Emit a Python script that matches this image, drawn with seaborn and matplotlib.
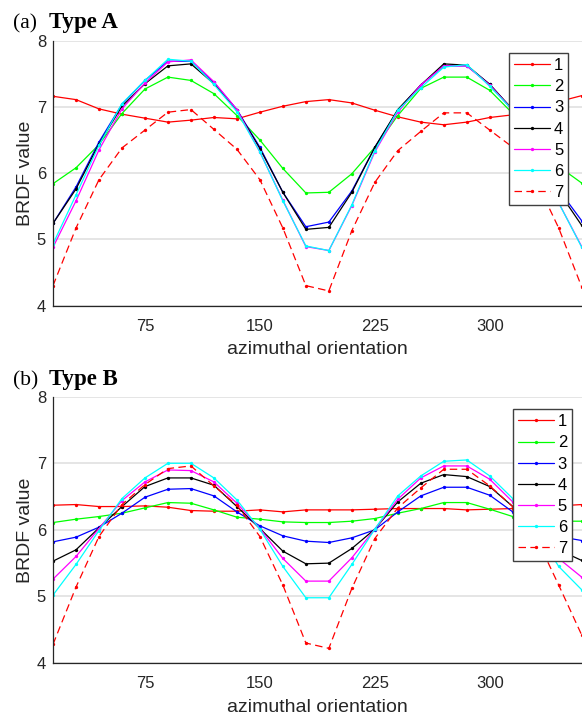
import numpy as np
import pandas as pd
import matplotlib
matplotlib.use("Agg")
import matplotlib.pyplot as plt
import seaborn as sns

# ---------------- data ----------------
azimuth = list(range(15, 361, 15))
series_names = ["1", "2", "3", "4", "5", "6", "7"]
x_ticks = [75, 150, 225, 300]
y_ticks = [4, 5, 6, 7, 8]

type_a_1 = [7.16, 7.11, 6.97, 6.89, 6.83, 6.77, 6.80, 6.84, 6.82, 6.92, 7.01, 7.08,
            7.11, 7.06, 6.95, 6.85, 6.77, 6.73, 6.77, 6.84, 6.88, 6.98, 7.08, 7.17]
type_a_2 = [5.84, 6.08, 6.43, 6.90, 7.27, 7.45, 7.40, 7.20, 6.87, 6.50, 6.07, 5.70,
            5.71, 5.99, 6.39, 6.87, 7.28, 7.45, 7.45, 7.25, 6.90, 6.50, 6.10, 5.85]
type_a_3 = [5.24, 5.79, 6.47, 7.04, 7.40, 7.69, 7.69, 7.37, 6.96, 6.39, 5.71, 5.19,
            5.26, 5.73, 6.39, 6.95, 7.33, 7.62, 7.62, 7.34, 6.95, 6.40, 5.75, 5.28]
type_a_4 = [5.24, 5.76, 6.44, 7.01, 7.35, 7.62, 7.65, 7.35, 6.95, 6.37, 5.71, 5.15,
            5.18, 5.71, 6.39, 6.96, 7.33, 7.65, 7.63, 7.34, 6.96, 6.40, 5.72, 5.21]
type_a_5 = [4.88, 5.58, 6.35, 6.97, 7.36, 7.68, 7.71, 7.38, 6.96, 6.32, 5.59, 4.89,
            4.83, 5.51, 6.32, 6.92, 7.33, 7.62, 7.62, 7.33, 6.95, 6.30, 5.55, 4.89]
type_a_6 = [4.93, 5.67, 6.42, 7.05, 7.40, 7.72, 7.69, 7.34, 6.93, 6.32, 5.58, 4.90,
            4.83, 5.52, 6.34, 6.95, 7.29, 7.60, 7.64, 7.31, 6.95, 6.30, 5.55, 4.88]
type_a_7 = [4.30, 5.17, 5.90, 6.38, 6.65, 6.92, 6.96, 6.66, 6.36, 5.90, 5.17, 4.30,
            4.22, 5.13, 5.86, 6.34, 6.63, 6.91, 6.91, 6.65, 6.39, 5.90, 5.17, 4.28]

type_b_1 = [6.37, 6.38, 6.35, 6.35, 6.36, 6.34, 6.29, 6.28, 6.28, 6.30, 6.27, 6.30,
            6.30, 6.30, 6.31, 6.32, 6.32, 6.32, 6.30, 6.31, 6.32, 6.34, 6.36, 6.38]
type_b_2 = [6.11, 6.16, 6.20, 6.25, 6.33, 6.41, 6.40, 6.30, 6.19, 6.16, 6.12, 6.11,
            6.11, 6.13, 6.17, 6.25, 6.32, 6.41, 6.41, 6.31, 6.20, 6.16, 6.13, 6.13]
type_b_3 = [5.82, 5.89, 6.04, 6.25, 6.49, 6.61, 6.62, 6.51, 6.27, 6.06, 5.91, 5.83,
            5.81, 5.88, 6.00, 6.27, 6.51, 6.64, 6.64, 6.52, 6.27, 6.05, 5.90, 5.84]
type_b_4 = [5.53, 5.70, 6.03, 6.35, 6.65, 6.78, 6.78, 6.67, 6.35, 6.02, 5.68, 5.49,
            5.50, 5.72, 6.01, 6.42, 6.70, 6.83, 6.80, 6.65, 6.35, 6.02, 5.70, 5.54]
type_b_5 = [5.26, 5.60, 6.02, 6.44, 6.72, 6.90, 6.89, 6.72, 6.40, 6.02, 5.57, 5.23,
            5.23, 5.58, 6.01, 6.46, 6.78, 6.96, 6.96, 6.76, 6.42, 6.00, 5.57, 5.29]
type_b_6 = [5.02, 5.48, 5.99, 6.47, 6.78, 7.00, 7.00, 6.78, 6.45, 6.01, 5.45, 4.98,
            4.98, 5.48, 6.01, 6.51, 6.81, 7.03, 7.05, 6.81, 6.47, 6.00, 5.45, 5.10]
type_b_7 = [4.28, 5.14, 5.90, 6.38, 6.68, 6.92, 6.96, 6.66, 6.37, 5.90, 5.17, 4.30,
            4.22, 5.12, 5.87, 6.33, 6.63, 6.91, 6.91, 6.66, 6.35, 5.90, 5.17, 4.42]

type_a = [type_a_1, type_a_2, type_a_3, type_a_4, type_a_5, type_a_6, type_a_7]
type_b = [type_b_1, type_b_2, type_b_3, type_b_4, type_b_5, type_b_6, type_b_7]

# ---------------- style ----------------
colors = ["#ff0000", "#00ff00", "#0000ff", "#000000", "#ff00ff", "#00ffff", "#ff0000"]
styles = ["-", "-", "-", "-", "-", "-", (0, (6, 3.5))]

sns.set_theme(style="white")
plt.rcParams["font.family"] = ["Liberation Sans", "DejaVu Sans"]

W, H = 582, 715
fig = plt.figure(figsize=(W / 100, H / 100), dpi=100)

def px_axes(left, top, right, bottom):
    return fig.add_axes([left / W, 1 - bottom / H, (right - left) / W, (bottom - top) / H])

ax_a = px_axes(53, 40.7, 581.7, 305.5)
ax_b = px_axes(53, 396.7, 581.7, 663.0)

dark = "#262626"

def draw(ax, data, legend_anchor):
    for name, vals, c, ls in zip(series_names, data, colors, styles):
        df = pd.DataFrame({"azimuth": azimuth, "value": vals})
        sns.lineplot(data=df, x="azimuth", y="value", ax=ax, color=c,
                     linestyle=ls, linewidth=0.9, marker="o", markersize=2.4,
                     markeredgewidth=0, errorbar=None, label=name)
    ax.set_xlim(15, 360)
    ax.set_ylim(4, 8)
    ax.set_xticks(x_ticks)
    ax.set_yticks(y_ticks)
    ax.set_xticklabels([str(t) for t in x_ticks])
    ax.set_yticklabels([str(t) for t in y_ticks])
    ax.grid(axis="y", color="#e3e3e3", linewidth=1.3)
    ax.grid(axis="x", visible=False)
    ax.set_axisbelow(True)
    for s in ["top", "right"]:
        ax.spines[s].set_visible(False)
    for s in ["left", "bottom"]:
        ax.spines[s].set_color(dark)
        ax.spines[s].set_linewidth(0.9)
    ax.tick_params(axis="both", direction="in", length=4.5, width=0.8,
                   colors=dark, labelsize=12, labelcolor=dark)
    ax.tick_params(axis="x", pad=9.5)
    ax.tick_params(axis="y", pad=5)
    ax.set_xlabel("azimuthal orientation", fontsize=14, color=dark, labelpad=5.5)
    ax.set_ylabel("BRDF value", fontsize=14, color=dark, labelpad=2)
    leg = ax.legend(loc="upper left", bbox_to_anchor=legend_anchor, borderaxespad=0,
                    fontsize=12, frameon=True, fancybox=False, framealpha=1,
                    edgecolor="#404040", handlelength=2.15, labelspacing=0.37,
                    borderpad=0.3, handletextpad=0.25)
    leg.get_frame().set_linewidth(1.0)
    for t in leg.get_texts():
        t.set_color("#000000")

draw(ax_a, type_a, (0.8625, 0.9535))
draw(ax_b, type_b, (0.8695, 0.9527))

serif = ["Liberation Serif", "DejaVu Serif"]
for label, bold, ybase in [("(a)", "Type A", 28), ("(b)", "Type B", 385)]:
    fig.text(13 / W, 1 - ybase / H, label, family=serif, fontsize=15.5, color="black",
             va="baseline", ha="left")
    fig.text(49 / W, 1 - ybase / H, bold, family=serif, fontsize=16.5, weight="bold",
             color="black", va="baseline", ha="left")

fig.savefig("out.png", dpi=100)
